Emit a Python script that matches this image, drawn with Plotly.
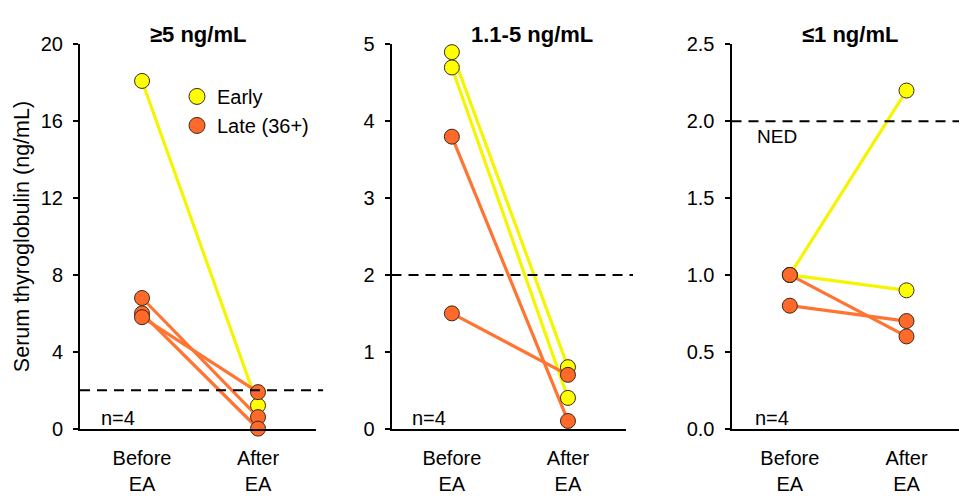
import plotly.graph_objects as go

# ---- data ----
x_labels = ["Before<br>EA", "After<br>EA"]
panel_titles = ["≥5 ng/mL", "1.1-5 ng/mL", "≤1 ng/mL"]
y_ranges = [[0, 20], [0, 5], [0, 2.5]]
y_ticks = [[0, 4, 8, 12, 16, 20], [0, 1, 2, 3, 4, 5], [0, 0.5, 1.0, 1.5, 2.0, 2.5]]
tick_formats = ["d", "d", ".1f"]
ned_level = 2

# each row: [before, after]
p1_early = [[18.1, 1.2]]
p1_late = [[6.8, 0.6], [6.0, 0.0], [5.8, 1.9]]
p2_early = [[4.9, 0.8], [4.7, 0.4]]
p2_late = [[3.8, 0.1], [1.5, 0.7]]
p3_early = [[1.0, 2.2], [1.0, 0.9]]
p3_late = [[1.0, 0.6], [0.8, 0.7]]
panels = [(p1_early, p1_late), (p2_early, p2_late), (p3_early, p3_late)]

# ---- style ----
YELLOW = "#FFFF00"
YELLOW_LINE = "#F5F500"
ORANGE = "#FF6A2A"
ORANGE_LINE = "#FF7430"
EDGE = "#3A2A1A"
FONT = "Liberation Sans, Arial, sans-serif"

x_domains = [[80 / 959, 316 / 959], [391.5 / 959, 626 / 959], [731.5 / 959, 1.0]]
y_domain = [(496 - 437) / 496, (496 - 35) / 496]
x_ranges = [[-0.535, 1.5], [-0.52, 1.5], [-0.5, 1.45]]
title_x = [198 / 959, 532 / 959, 850 / 959]

fig = go.Figure()

for i, (early, late) in enumerate(panels):
    xa = "x" if i == 0 else f"x{i+1}"
    ya = "y" if i == 0 else f"y{i+1}"
    for grp, lcolor in ((early, YELLOW_LINE), (late, ORANGE_LINE)):
        for vals in grp:
            fig.add_trace(go.Scatter(
                x=[0, 1], y=vals, mode="lines",
                line=dict(color=lcolor, width=3.2),
                xaxis=xa, yaxis=ya, showlegend=False, cliponaxis=False,
                hoverinfo="skip"))
    for grp, color in ((early, YELLOW), (late, ORANGE)):
        for vals in grp:
            fig.add_trace(go.Scatter(
                x=[0, 1], y=vals, mode="markers",
                marker=dict(color=color, size=15, line=dict(color=EDGE, width=1)),
                xaxis=xa, yaxis=ya, showlegend=False, cliponaxis=False))
    # NED dashed line
    fig.add_shape(type="line", xref=f"{xa} domain", yref=ya,
                  x0=0, x1=1.03 if i < 2 else 1, y0=ned_level, y1=ned_level,
                  line=dict(color="black", width=2, dash="10px,7px"))
    fig.add_annotation(xref=f"{xa} domain", yref=f"{ya} domain",
                       x=0.16 if i < 2 else 0.18, y=0.028, text="n=4", showarrow=False,
                       xanchor="center", yanchor="middle",
                       font=dict(family=FONT, size=20, color="black"))
    fig.add_annotation(xref="paper", yref="paper",
                       x=title_x[i], y=(496 - 25) / 496, text=f"<b>{panel_titles[i]}</b>",
                       showarrow=False, xanchor="center", yanchor="middle",
                       font=dict(family=FONT, size=22, color="black"))

fig.add_annotation(xref="x3 domain", yref="y3", x=0.2, y=1.9, text="NED",
                   showarrow=False, xanchor="center", yanchor="middle",
                   font=dict(family=FONT, size=19, color="black"))

# legend traces
fig.add_trace(go.Scatter(x=[None], y=[None], mode="markers", name="Early",
                         marker=dict(color=YELLOW, size=17, line=dict(color=EDGE, width=1)),
                         legendgroup="a"))
fig.add_trace(go.Scatter(x=[None], y=[None], mode="markers", name="Late (36+)",
                         marker=dict(color=ORANGE, size=17, line=dict(color=EDGE, width=1)),
                         legendgroup="b"))

layout = dict(
    width=959, height=496,
    margin=dict(l=0, r=0, t=0, b=0),
    paper_bgcolor="white", plot_bgcolor="white",
    font=dict(family=FONT, size=20, color="black"),
    legend=dict(x=177 / 959, y=(496 - 69) / 496, xanchor="left", yanchor="top",
                bgcolor="rgba(0,0,0,0)", font=dict(size=20), tracegroupgap=0,
                itemwidth=30),
    showlegend=True,
)
for i in range(3):
    xk = "xaxis" if i == 0 else f"xaxis{i+1}"
    yk = "yaxis" if i == 0 else f"yaxis{i+1}"
    layout[xk] = dict(domain=x_domains[i], range=x_ranges[i], anchor="y" if i == 0 else f"y{i+1}",
                      tickmode="array", tickvals=[0, 1], ticktext=x_labels,
                      showline=True, linecolor="black", linewidth=2, ticks="",
                      showgrid=False, zeroline=False, fixedrange=True,
                      ticklabelstandoff=10, tickfont=dict(size=20))
    layout[yk] = dict(domain=y_domain, range=y_ranges[i], anchor="x" if i == 0 else f"x{i+1}",
                      tickmode="array", tickvals=y_ticks[i], tickformat=tick_formats[i],
                      showline=True, linecolor="black", linewidth=2, ticks="outside",
                      ticklen=5, tickwidth=1.5, tickcolor="black",
                      showgrid=False, zeroline=False, tickfont=dict(size=20),
                      ticklabelstandoff=6)
layout["yaxis"]["title"] = dict(text="Serum thyroglobulin (ng/mL)", font=dict(size=21.5), standoff=5)
fig.update_layout(**layout)

fig.write_html("out.html")
